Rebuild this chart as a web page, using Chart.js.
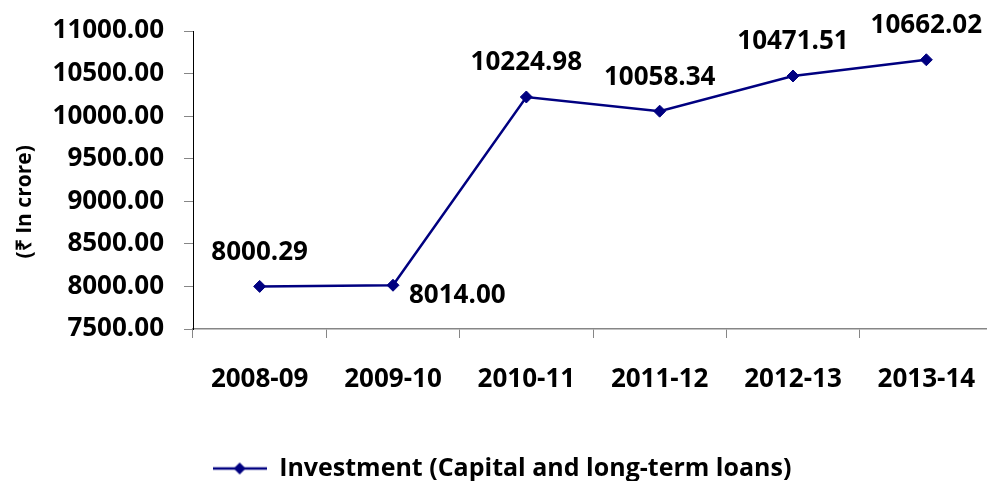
<!DOCTYPE html>
<html lang="en">
<head>
  <meta charset="UTF-8">
  <title>Investment (Capital and long-term loans)</title>
  <script src="https://cdn.jsdelivr.net/npm/chart.js"></script>
  <style>
    html, body {
      margin: 0;
      padding: 0;
      background: #fff;
      overflow: hidden;
    }
    #wrap {
      width: 1000px;
      height: 481px;
    }
  </style>
</head>
<body>
  <div id="wrap"><canvas id="invChart" width="1000" height="481"></canvas></div>

  <script>
    const years = ['2008-09', '2009-10', '2010-11', '2011-12', '2012-13', '2013-14'];
    const investment = [8000.29, 8014.00, 10224.98, 10058.34, 10471.51, 10662.02];
    const yTicks = [7500, 8000, 8500, 9000, 9500, 10000, 10500, 11000];
    const labelPos = ['top', 'right', 'top', 'top', 'top', 'top'];

    const FONT = '"Open Sans", sans-serif';
    const navy = '#000080';

    // legend marker: line with a diamond in the middle
    const legendMark = document.createElement('canvas');
    legendMark.width = 54;
    legendMark.height = 14;
    (function () {
      const c = legendMark.getContext('2d');
      c.strokeStyle = navy;
      c.lineWidth = 2.5;
      c.beginPath();
      c.moveTo(0, 7);
      c.lineTo(54, 7);
      c.stroke();
      c.fillStyle = navy;
      c.beginPath();
      c.moveTo(27, 1);
      c.lineTo(33, 7);
      c.lineTo(27, 13);
      c.lineTo(21, 7);
      c.closePath();
      c.fill();
    })();

    const valueLabels = {
      id: 'valueLabels',
      afterDatasetsDraw(chart) {
        const ctx = chart.ctx;
        const meta = chart.getDatasetMeta(0);
        ctx.save();
        ctx.font = 'bold 26px ' + FONT;
        ctx.fillStyle = '#000';
        ctx.textBaseline = 'middle';
        meta.data.forEach((pt, i) => {
          const txt = investment[i].toFixed(2);
          if (labelPos[i] === 'right') {
            ctx.textAlign = 'left';
            ctx.fillText(txt, pt.x + 16, pt.y + 10);
          } else {
            ctx.textAlign = 'center';
            ctx.fillText(txt, pt.x, pt.y - 34);
          }
        });
        ctx.restore();
      }
    };

    const ctx = document.getElementById('invChart').getContext('2d');
    new Chart(ctx, {
      type: 'line',
      data: {
        labels: years,
        datasets: [{
          label: 'Investment (Capital and long-term loans)',
          data: investment,
          borderColor: navy,
          backgroundColor: navy,
          borderWidth: 2.5,
          pointStyle: 'rectRot',
          pointRadius: 6,
          pointBorderWidth: 1,
          pointBackgroundColor: navy,
          pointBorderColor: navy,
          tension: 0
        }]
      },
      options: {
        responsive: false,
        animation: false,
        layout: { padding: { top: 31, right: 4, left: 8, bottom: -10 } },
        scales: {
          x: {
            offset: true,
            grid: {
              offset: true,
              drawOnChartArea: false,
              tickLength: 9,
              color: '#868686'
            },
            border: { color: '#868686', width: 1.5 },
            ticks: {
              padding: 26,
              color: '#000',
              font: { family: FONT, size: 26, weight: 'bold' },
              maxRotation: 0
            },
            afterFit: s => {
              s.height = 117;
              s.paddingLeft = 0;
              s.paddingRight = 0;
            }
          },
          y: {
            min: 7500,
            max: 11000,
            afterBuildTicks: s => { s.ticks = yTicks.map(v => ({ value: v })); },
            grid: {
              drawOnChartArea: false,
              tickLength: 9,
              color: '#868686'
            },
            border: { color: '#000', width: 1 },
            ticks: {
              padding: 20,
              color: '#000',
              font: { family: FONT, size: 26, weight: 'bold' },
              callback: v => Number(v).toFixed(2)
            },
            title: {
              display: true,
              text: '(₹ In crore)        ',
              color: '#000',
              font: { family: FONT, size: 21, weight: 'bold' },
              padding: { top: 4, bottom: 0 }
            },
            afterFit: s => {
              s.width = 185;
              s.paddingTop = 0;
              s.paddingBottom = 0;
            }
          }
        },
        plugins: {
          legend: {
            position: 'bottom',
            labels: {
              usePointStyle: true,
              pointStyle: legendMark,
              pointStyleWidth: 54,
              color: '#000',
              padding: 10,
              font: { family: FONT, size: 25, weight: 'bold' }
            }
          },
          tooltip: { enabled: false }
        }
      },
      plugins: [valueLabels]
    });
  </script>
</body>
</html>
